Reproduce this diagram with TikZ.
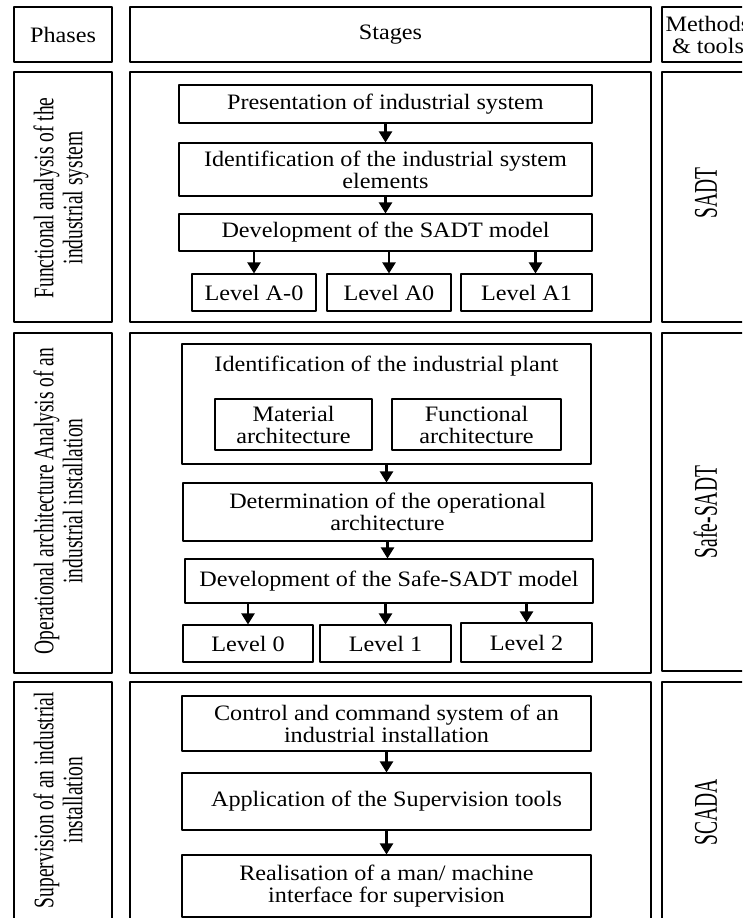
\documentclass[tikz,border=0pt]{standalone}
\usepackage{fontspec}
\usepackage{graphicx}
\setmainfont{Liberation Serif}[FakeStretch=1.1]
\newfontfamily\rotfont{Liberation Serif}
\usetikzlibrary{arrows.meta}
\newcommand{\ystr}[2]{\scalebox{1}[#1]{\begin{tabular}{@{}c@{}}#2\end{tabular}}}
\tikzset{
  box/.style={draw, line width=1.1pt, inner sep=0pt, align=center},
  rottext/.style={rotate=90, inner sep=0pt, font=\rotfont\fontsize{19.5}{20}\selectfont},
  arr/.style={line width=2.2pt, -{Triangle[width=13pt,length=11pt]}}
}
\begin{document}
\begin{tikzpicture}[x=1pt, y=-1pt, font=\fontsize{22}{22}\selectfont, line join=round]
	\useasboundingbox (0,0) rectangle (742,918);
	\clip (0,0) rectangle (742,918);
	% en-tetes
	\node[box, minimum width=98, minimum height=55] (hph) at (63,34.5) {Phases};
	\node[box, minimum width=521, minimum height=55] (hst) at (390.5,34.5) {Stages};
	\node[box, minimum width=100, minimum height=55] (hmt) at (712,34.5) {};
	\node (hmtt) at (708,34.5) [align=center] {Methods\\\& tools};
	% cadres des trois phases
	\node[box, minimum width=98, minimum height=250] (ph1) at (63,197) {};
	\node[box, minimum width=521, minimum height=250] (st1) at (390.5,197) {};
	\node[box, minimum width=100, minimum height=250] (mt1) at (712,197) {};
	\node[box, minimum width=98, minimum height=340] (ph2) at (63,503) {};
	\node[box, minimum width=521, minimum height=340] (st2) at (390.5,503) {};
	\node[box, minimum width=100, minimum height=338] (mt2) at (712,502) {};
	\node[box, minimum width=98, minimum height=248] (ph3) at (63,806) {};
	\node[box, minimum width=521, minimum height=248] (st3) at (390.5,806) {};
	\node[box, minimum width=100, minimum height=248] (mt3) at (712,806) {};
	\node[rottext] (ph1t) at (62,198) {\ystr{1.45}{Functional analysis of the\\industrial system}};
	\node[rottext] (ph2t) at (62,501) {\ystr{1.45}{Operational architecture Analysis of an\\industrial installation}};
	\node[rottext] (ph3t) at (62,800) {\ystr{1.45}{Supervision of an industrial\\installation}};
	\node[rottext] (mt1t) at (710,193) {\ystr{1.7}{SADT}};
	\node[rottext] (mt2t) at (710,512) {\ystr{1.7}{Safe-SADT}};
	\node[rottext] (mt3t) at (710,812) {\ystr{1.7}{SCADA}};
	% phase 1
	\node[box, minimum width=413, minimum height=38] (pres) at (385.5,104) {Presentation of industrial system};
	\node[box, minimum width=413, minimum height=53] (ident) at (385.5,169.5) {Identification of the industrial system\\elements};
	\node[box, minimum width=413, minimum height=37] (devs) at (385.5,232.5) {Development of the SADT model};
	\node[box, minimum width=124, minimum height=37] (la0) at (254,292.5) {Level A-0};
	\node[box, minimum width=124, minimum height=37] (la1) at (389,292.5) {Level A0};
	\node[box, minimum width=131, minimum height=37] (la2) at (526.5,292.5) {Level A1};
	\draw[arr] (pres.south) -- (ident.north);
	\draw[arr] (ident.south) -- (devs.north);
	\draw[arr] (devs.south -| la0.north) -- (la0.north);
	\draw[arr] (devs.south -| la1.north) -- (la1.north);
	\draw[arr] ([xshift=9]devs.south -| la2.north) -- ([xshift=9]la2.north);
	% phase 2
	\node[box, minimum width=409, minimum height=120] (plant) at (386.5,404) {};
	\node (plantt) at (386.5,366) {Identification of the industrial plant};
	\node[box, minimum width=157, minimum height=51] (mat) at (293.5,424.5) {Material\\architecture};
	\node[box, minimum width=169, minimum height=51] (fun) at (476.5,424.5) {Functional\\architecture};
	\node[box, minimum width=409, minimum height=58] (det) at (387.5,512) {Determination of the operational\\architecture};
	\node[box, minimum width=408, minimum height=44] (devss) at (389,581) {Development of the Safe-SADT model};
	\node[box, minimum width=130, minimum height=37] (l0) at (248,643.5) {Level 0};
	\node[box, minimum width=131, minimum height=37] (l1) at (385.5,643.5) {Level 1};
	\node[box, minimum width=131, minimum height=39] (l2) at (526.5,642.5) {Level 2};
	\draw[arr] (plant.south) -- (plant.south |- det.north);
	\draw[arr] (det.south) -- (det.south |- devss.north);
	\draw[arr] (devss.south -| l0.north) -- (l0.north);
	\draw[arr] (devss.south -| l1.north) -- (l1.north);
	\draw[arr] (devss.south -| l2.north) -- (l2.north);
	% phase 3
	\node[box, minimum width=409, minimum height=55] (ctrl) at (386.5,723.5) {Control and command system of an\\industrial installation};
	\node[box, minimum width=409, minimum height=57] (appl) at (386.5,801.5) {Application of the Supervision tools};
	\node[box, minimum width=409, minimum height=62] (real) at (386.5,886) {Realisation of a man/ machine\\interface for supervision};
	\draw[arr] (ctrl.south) -- (appl.north);
	\draw[arr] (appl.south) -- (real.north);
\end{tikzpicture}
\end{document}
